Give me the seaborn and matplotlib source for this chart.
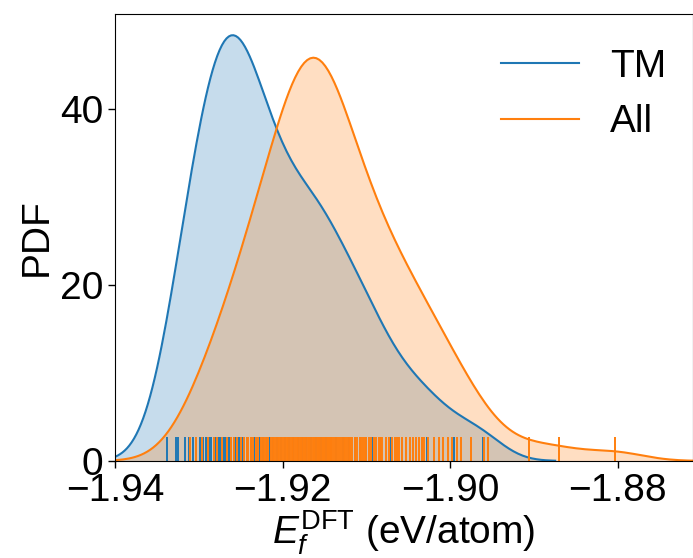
import numpy as np
import matplotlib
matplotlib.use('Agg')
import matplotlib.pyplot as plt
import seaborn as sns

# ------------------------
# Data (formation energies, eV/atom)
# ------------------------
tm_values = [
    -1.9338,
    -1.9327, -1.9325, -1.9317, -1.9312,
    -1.9307, -1.9303, -1.9299, -1.9295, -1.9291,
    -1.9288, -1.9285, -1.9282, -1.9279, -1.9276, -1.9273,
    -1.9270, -1.9267, -1.9264, -1.9261, -1.9258, -1.9255, -1.9252, -1.9250,
    -1.9249, -1.9246, -1.9242, -1.9238, -1.9234, -1.9231,
    -1.9227, -1.9223, -1.9219, -1.9215, -1.9211,
    -1.9207, -1.9202, -1.9197, -1.9192,
    -1.9187, -1.9182, -1.9177, -1.9172,
    -1.9166, -1.9160, -1.9156, -1.9154,
    -1.9148, -1.9142, -1.9136,
    -1.9128, -1.9121, -1.9114,
    -1.9108, -1.9100, -1.9093,
    -1.9082, -1.9070,
    -1.9058, -1.9034, -1.9028, -1.8995, -1.8961,
]

all_values = [
    -1.9311, -1.9303,
    -1.9296, -1.9289, -1.9282,
    -1.9278, -1.9272, -1.9266, -1.9261,
    -1.9258, -1.9254, -1.9250, -1.9246, -1.9243, -1.9241,
    -1.9238, -1.9235, -1.9232, -1.9229, -1.9226, -1.9223, -1.9221,
    -1.9219, -1.9217, -1.9214, -1.9212, -1.9210, -1.9208, -1.9206, -1.9204, -1.9202,
    -1.9199, -1.9197, -1.9195, -1.9193, -1.9191, -1.9189, -1.9187, -1.9185, -1.9183, -1.9181,
    -1.9179, -1.9178, -1.9177, -1.9175, -1.9174, -1.9173, -1.9172, -1.9170, -1.9169, -1.9168,
    -1.9166, -1.9164, -1.9163, -1.9162, -1.9161,
    -1.9159, -1.9158, -1.9157, -1.9155, -1.9153, -1.9152, -1.9151, -1.9149, -1.9147, -1.9146,
    -1.9145, -1.9143, -1.9142, -1.9141,
    -1.9138, -1.9136, -1.9134, -1.9131, -1.9129, -1.9127, -1.9125, -1.9123, -1.9121, -1.9120,
    -1.9117, -1.9114, -1.9111, -1.9108, -1.9106, -1.9104, -1.9102, -1.9100,
    -1.9097, -1.9094, -1.9091, -1.9088, -1.9085, -1.9083, -1.9081,
    -1.9077, -1.9073, -1.9069, -1.9066, -1.9063, -1.9061,
    -1.9057, -1.9053, -1.9048, -1.9044, -1.9041,
    -1.9037, -1.9034, -1.9031, -1.9026, -1.9019,
    -1.9013, -1.9009, -1.9003,
    -1.8998, -1.8992, -1.8987, -1.8975, -1.8959, -1.8955,
    -1.8906, -1.8870, -1.8803,
]

series = [("TM", tm_values, "C0", 0.75), ("All", all_values, "C1", 1.0)]
x_ticks = [-1.94, -1.92, -1.90, -1.88]
y_ticks = [0, 20, 40]

# ------------------------
# Style
# ------------------------
plt.rcParams['font.family'] = ['Liberation Sans', 'DejaVu Sans']
plt.rcParams['font.size'] = 28
plt.rcParams['mathtext.fontset'] = 'custom'
plt.rcParams['mathtext.rm'] = 'Liberation Sans'
plt.rcParams['mathtext.it'] = 'Liberation Sans:italic'
plt.rcParams['mathtext.bf'] = 'Liberation Sans:bold'

fig = plt.figure(figsize=(6.93, 5.58), dpi=100)
ax = fig.add_axes([0.166, 0.174, 0.834, 0.801])

for name, vals, color, bw in series:
    sns.kdeplot(x=vals, ax=ax, color=color, linewidth=1.5, bw_adjust=bw, label=name)
    sns.kdeplot(x=vals, ax=ax, color=color, fill=True, alpha=0.25, linewidth=0, bw_adjust=bw)
    sns.rugplot(x=vals, ax=ax, color=color, height=0.054, linewidth=1.4,
                expand_margins=False)

ax.set_xlim(-1.94, -1.871)
ax.set_xticks(x_ticks)
ax.set_yticks(y_ticks)
ax.tick_params(axis='both', labelsize=28, length=5, width=1)
ax.set_xlabel(r"$E_f^\mathrm{DFT}$ (eV/atom)", fontsize=28, labelpad=0)
ax.set_ylabel("PDF", fontsize=28)
ax.legend(loc='upper right', bbox_to_anchor=(1.014, 1.0), frameon=False,
          fontsize=28, handlelength=2.0)

plt.savefig("out.png", dpi=100)
plt.close()
